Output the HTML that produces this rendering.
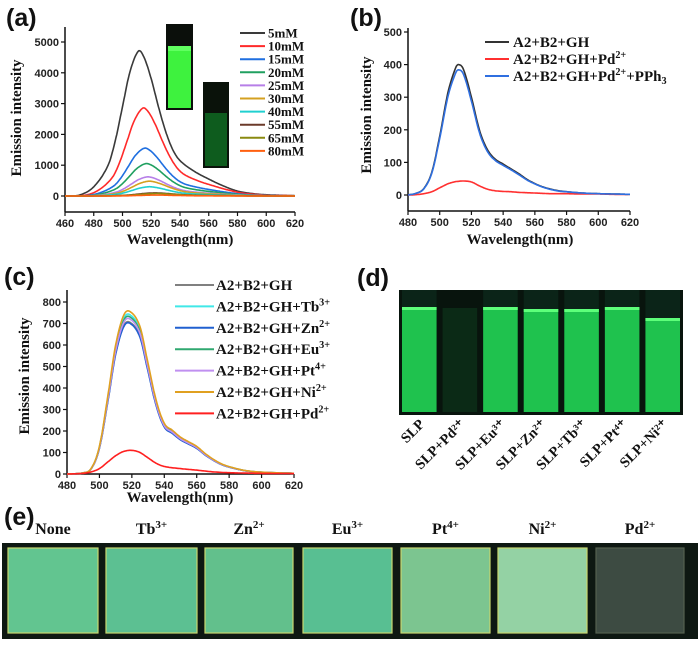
<!DOCTYPE html>
<html><head><meta charset="utf-8"><style>
html,body{margin:0;padding:0;background:#fff;}
svg{display:block;}
.tk{font-family:"Liberation Sans",sans-serif;font-weight:bold;font-size:11px;fill:#222;}
.tt{font-family:"Liberation Serif",serif;font-weight:bold;font-size:15px;fill:#111;}
.pl{font-family:"Liberation Sans",sans-serif;font-weight:bold;font-size:25px;fill:#111;}
.lg{font-family:"Liberation Serif",serif;font-weight:bold;fill:#111;}
</style></head><body>
<svg id="fig" width="700" height="646" viewBox="0 0 700 646" xmlns="http://www.w3.org/2000/svg">
<g id="photos"></g>
<g id="charts"></g>
</svg>
<script>
// ---------- data ----------
// panel (a)
const aLabels = ["5mM","10mM","15mM","20mM","25mM","30mM","40mM","55mM","65mM","80mM"];
const aColors = ["#3a3a3a","#ff2a2a","#1f6fe0","#20a060","#b77fe8","#d4a020","#20d0d0","#6b3a2a","#8a8a10","#ff6010"];
const aPeaks = [4700,2850,1550,1050,620,480,300,100,80,30];
const aPeakWl = [511,514,515,516,517,518,518,522,523,523];
const aShapeWl = [460,470,480,490,495,500,505,511,515,520,525,530,535,540,550,560,570,580,590,600,620];
const aShapeVal = [0,30,300,1000,1800,2900,4000,4700,4500,3800,2900,2100,1500,1150,800,550,330,160,80,40,10];
const aYTicks = [0,1000,2000,3000,4000,5000];
const aXTicks = [460,480,500,520,540,560,580,600,620];
// panel (b)
const bLabels = ["A2+B2+GH","A2+B2+GH+Pd²⁺","A2+B2+GH+Pd²⁺+PPh₃"];
const bColors = ["#333333","#ff3030","#2f6fe0"];
const bWl = [480,485,490,495,500,505,510,512,515,520,525,530,535,540,545,550,555,560,565,570,575,580,590,600,610,620];
const bBlack = [0,5,20,70,180,310,390,400,385,300,200,140,110,95,80,65,48,35,25,18,13,10,6,4,3,2];
const bBlue = [0,5,19,67,173,298,374,384,370,288,192,134,106,91,77,62,46,34,24,17,12,10,6,4,3,2];
const bRed = [0,1,4,10,22,34,41,42,43,40,28,18,13,11,10,8,7,6,5,4,4,4,3,3,2,2];
const bYTicks = [0,100,200,300,400,500];
const bXTicks = [480,500,520,540,560,580,600,620];
// panel (c)
const cLabels = ["A2+B2+GH","A2+B2+GH+Tb³⁺","A2+B2+GH+Zn²⁺","A2+B2+GH+Eu³⁺","A2+B2+GH+Pt⁴⁺","A2+B2+GH+Ni²⁺","A2+B2+GH+Pd²⁺"];
const cColors = ["#808080","#40e8e8","#2060d0","#30a870","#c090f0","#e0a020","#ff2020"];
const cPeaks = [705,740,700,730,720,755,110];
const cShapeWl = [480,490,495,500,505,510,515,519,525,530,535,540,545,550,555,560,565,570,575,580,590,600,620];
const cShapeVal = [0,5,25,120,330,560,690,705,640,480,320,220,190,160,140,120,90,65,45,32,15,8,3];
const cRedWl = [480,490,495,500,505,510,515,520,525,530,535,540,550,560,570,580,600,620];
const cRedVal = [0,3,10,25,55,85,105,110,100,75,50,35,25,18,10,6,3,2];
const cYTicks = [0,100,200,300,400,500,600,700,800];
const cXTicks = [480,500,520,540,560,580,600,620];
// panel (d)
const dLabels = ["SLP","SLP+Pd²⁺","SLP+Eu³⁺","SLP+Zn²⁺","SLP+Tb³⁺","SLP+Pt⁴⁺","SLP+Ni²⁺"];
const dBright = [1,0.12,0.95,0.95,1,1,0.95];
const dLevel = [307,308,307,309,309,307,318];
// panel (e)
const eLabels = [["None",""],["Tb","3+"],["Zn","2+"],["Eu","3+"],["Pt","4+"],["Ni","2+"],["Pd","2+"]];
const eColors = ["#62c590","#5cc092","#62c08c","#58bf92","#7cc590","#94d2a4","#3d4b42"];

// ---------- helpers ----------
const NS="http://www.w3.org/2000/svg";
const charts=document.getElementById('charts');
const photos=document.getElementById('photos');
function mk(tag,attrs,parent,text){const e=document.createElementNS(NS,tag);for(const k in attrs)e.setAttribute(k,attrs[k]);if(text!==undefined)e.textContent=text;(parent||charts).appendChild(e);return e;}
function interp(xs,ys,x){
  const n=xs.length;
  if(x<=xs[0])return ys[0];if(x>=xs[n-1])return ys[n-1];
  let i=1;while(x>xs[i])i++;
  const x0=xs[i-1],x1=xs[i],y0=ys[i-1],y1=ys[i];
  const h=x1-x0,t=(x-x0)/h;
  const m=k=>{ if(k<=0)return (ys[1]-ys[0])/(xs[1]-xs[0]); if(k>=n-1)return (ys[n-1]-ys[n-2])/(xs[n-1]-xs[n-2]);
    return (ys[k+1]-ys[k-1])/(xs[k+1]-xs[k-1]);};
  const m0=m(i-1)*h,m1=m(i)*h;
  const t2=t*t,t3=t2*t;
  return (2*t3-3*t2+1)*y0+(t3-2*t2+t)*m0+(-2*t3+3*t2)*y1+(t3-t2)*m1;
}
function axes(g,cfg){
  const {x0,x1,wl0,wl1,yBase,yScale,axTop,axBot,yTicks,xTicks}=cfg;
  const X=w=>x0+(w-wl0)/(wl1-wl0)*(x1-x0);
  const Y=v=>yBase-v*yScale;
  const ax=mk('line',{x1:x0,y1:axTop,x2:x0,y2:axBot,stroke:'#111','stroke-width':1.5},g);
  
  const bx=mk('line',{x1:x0,y1:axBot,x2:x1,y2:axBot,stroke:'#111','stroke-width':1.5},g);
  
  yTicks.forEach(v=>{mk('line',{x1:x0-4,y1:Y(v),x2:x0,y2:Y(v),stroke:'#111','stroke-width':1.2},g);
    const t=mk('text',{x:x0-6,y:Y(v)+4,'text-anchor':'end',class:'tk'},g,String(v));
    });
  xTicks.forEach(v=>{mk('line',{x1:X(v),y1:axBot,x2:X(v),y2:axBot+4,stroke:'#111','stroke-width':1.2},g);
    const t=mk('text',{x:X(v),y:axBot+15,'text-anchor':'middle',class:'tk'},g,String(v));
    });
  return {X,Y};
}
function curve(g,xs,ys,X,Y,color,name){
  let d='';for(let w=xs[0];w<=xs[xs.length-1];w+=0.5){d+=(d?'L':'M')+X(w).toFixed(1)+','+Y(Math.max(0,interp(xs,ys,w))).toFixed(1);}
  const p=mk('path',{d,fill:'none',stroke:color,'stroke-width':1.6,'stroke-linejoin':'round'},g);
  
}
function panelLabel(x,y,s){const t=mk('text',{x,y,class:'pl'},charts,s);}
function ylab(x,y,name){const t=mk('text',{x,y,class:'tt','text-anchor':'middle',transform:`rotate(-90 ${x} ${y})`},charts,'Emission intensity');}
function xlab(x,y,name){const t=mk('text',{x,y,class:'tt','text-anchor':'middle'},charts,'Wavelength(nm)');}
function legendText(g,x,y,label,size){
  const t=mk('text',{x,y,class:'lg','font-size':size},g);
  
  const m=label.match(/^(.*?)([²³⁴]⁺)(.*)$/);
  if(!m){t.textContent=label;return;}
  const map={'²':'2','³':'3','⁴':'4'};
  mk('tspan',{},t,m[1]);
  mk('tspan',{dy:-6,'font-size':size*0.68},t,map[m[2][0]]+'+');
  if(m[3]){const sub=m[3].match(/^(.*)₃$/);
    if(sub){mk('tspan',{dy:6},t,sub[1]);mk('tspan',{dy:3,'font-size':size*0.68},t,'3');}
    else mk('tspan',{dy:6},t,m[3]);}
}

// ---------- panel (a) ----------
const gA=mk('g',{});
panelLabel(6,26,'(a)');
const in1=mk('rect',{x:166,y:24,width:27,height:86,fill:'#0b0f0b'},gA);
mk('rect',{x:168,y:48,width:23,height:60,fill:'#3ef23e'},gA);
mk('rect',{x:168,y:46,width:23,height:5,fill:'#60ff60'},gA);
const in2=mk('rect',{x:203,y:82,width:26,height:86,fill:'#0a120a'},gA);
mk('rect',{x:205,y:113,width:22,height:53,fill:'#0e5c1e'},gA);
const A=axes(gA,{x0:65,x1:295,wl0:460,wl1:620,yBase:196,yScale:0.0308,axTop:27,axBot:212,yTicks:aYTicks,xTicks:aXTicks});
aPeaks.forEach((pk,i)=>{
  const shift=aPeakWl[i]-511;
  const xs=aShapeWl.map((w,j)=> (j===0||j===aShapeWl.length-1)?w:w+shift);
  const ys=aShapeVal.map(v=>v*pk/4700);
  curve(gA,xs,ys,A.X,A.Y,aColors[i],'curve-'+aLabels[i]);
});
aLabels.forEach((l,i)=>{const y=33+i*13.1;
  const ln=mk('line',{x1:240,y1:y,x2:265,y2:y,stroke:aColors[i],'stroke-width':2},gA);
  legendText(gA,268,y+4.5,l,13);});
ylab(21,118,'y-axis-title-a');xlab(180,244,'x-axis-title-a');

// ---------- panel (b) ----------
const gB=mk('g',{});
panelLabel(350,26,'(b)');
const B=axes(gB,{x0:408,x1:630,wl0:480,wl1:620,yBase:195,yScale:0.326,axTop:28,axBot:211,yTicks:bYTicks,xTicks:bXTicks});
curve(gB,bWl,bBlack,B.X,B.Y,bColors[0],'curve-a2-b2-gh');
curve(gB,bWl,bRed,B.X,B.Y,bColors[1],'curve-pd');
curve(gB,bWl,bBlue,B.X,B.Y,bColors[2],'curve-pd-pph3');
bLabels.forEach((l,i)=>{const y=[42,59,76][i];
  const ln=mk('line',{x1:485,y1:y,x2:509,y2:y,stroke:bColors[i],'stroke-width':2},gB);
  legendText(gB,513,y+5,l,15);});
ylab(371,115,'y-axis-title-b');xlab(520,244,'x-axis-title-b');

// ---------- panel (c) ----------
const gC=mk('g',{});
panelLabel(4,285,'(c)');
const C=axes(gC,{x0:67,x1:294,wl0:480,wl1:620,yBase:474,yScale:0.215,axTop:290,axBot:474,yTicks:cYTicks,xTicks:cXTicks});
cPeaks.forEach((pk,i)=>{
  if(i===6){curve(gC,cRedWl,cRedVal.map(v=>v*pk/110),C.X,C.Y,cColors[i],'curve-'+cLabels[i]);return;}
  curve(gC,cShapeWl,cShapeVal.map(v=>v*pk/705),C.X,C.Y,cColors[i],'curve-'+cLabels[i]);
});
cLabels.forEach((l,i)=>{const y=285+i*21.4;
  const ln=mk('line',{x1:175,y1:y,x2:214,y2:y,stroke:cColors[i],'stroke-width':2},gC);
  legendText(gC,216,y+5,l,15);});
ylab(29,376,'y-axis-title-c');xlab(180,502,'x-axis-title-c');

// ---------- panel (d) ----------
panelLabel(357,286,'(d)');
const gD=mk('g',{},photos);
mk('rect',{x:399,y:290,width:284,height:125,fill:'#08140d'},gD);
const cw=284/7;
dLabels.forEach((l,i)=>{
  const x=399+i*cw, b=dBright[i];
  const fill=b>0.5?'#1fc24e':'#0b2a16';
  const r=mk('rect',{x:x+3,y:dLevel[i],width:cw-6,height:415-dLevel[i]-3,fill},gD);
  
  if(b>0.5){mk('rect',{x:x+3,y:dLevel[i],width:cw-6,height:3,fill:'#5dff7a'},gD);
    mk('rect',{x:x+3,y:290,width:cw-6,height:dLevel[i]-290,fill:'#0b2418'},gD);}
  const cx=x+cw/2+6;
  const t=mk('text',{x:cx,y:425,'text-anchor':'end',class:'lg','font-size':14.5,transform:`rotate(-45 ${cx} 425)`},charts,l);
  
});

// ---------- panel (e) ----------
panelLabel(4,525,'(e)');
const gE=mk('g',{},photos);
mk('rect',{x:2,y:543,width:696,height:96,fill:'#0e1812'},gE);
const ex=[8,106,205,303,401,498,596], ew=[90,91,88,89,89,89,88];
eColors.forEach((c,i)=>{
  const r=mk('rect',{x:ex[i],y:548,width:ew[i],height:85,fill:c,stroke:i<6?'#c8d870':'#55604f','stroke-width':1.2},gE);
  
  const t=mk('text',{x:ex[i]+ew[i]/2,y:534,'text-anchor':'middle',class:'lg','font-size':16},charts);
  
  t.textContent=eLabels[i][0];
  if(eLabels[i][1]){mk('tspan',{dy:-6,'font-size':11},t,eLabels[i][1]);}
});
</script>
</body></html>
